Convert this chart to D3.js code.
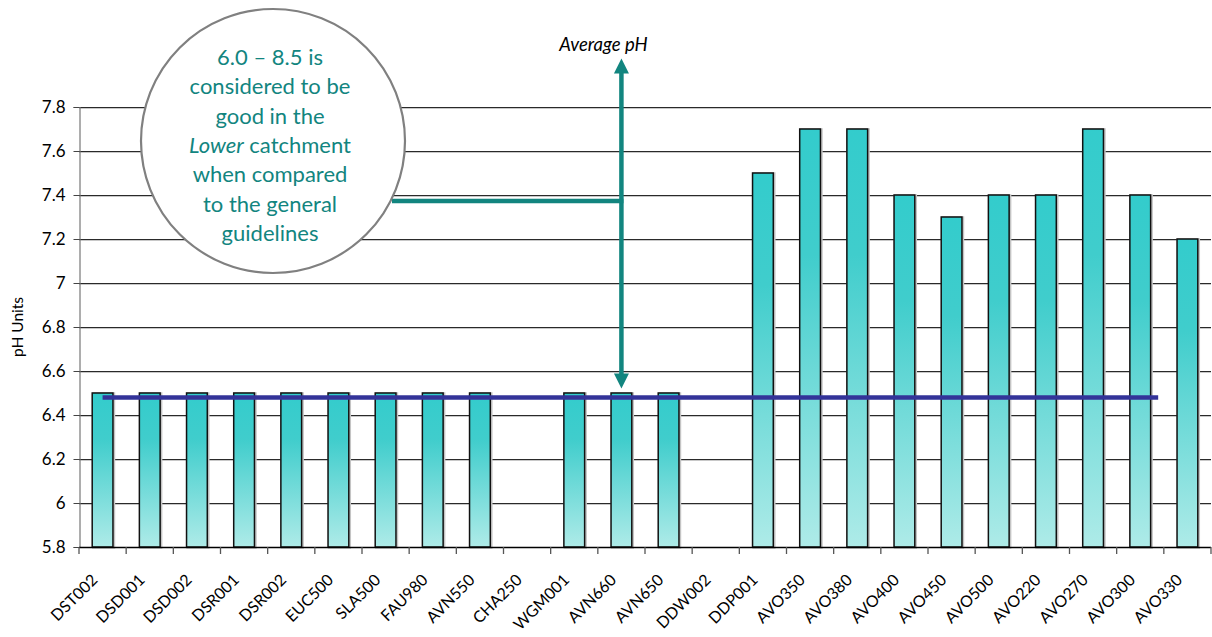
<!DOCTYPE html>
<html><head><meta charset="utf-8">
<script src="https://cdn.jsdelivr.net/npm/d3@7"></script>
<style>body{margin:0;background:#fff}svg{display:block}text{font-family:Lato,"Open Sans",sans-serif}</style>
</head><body>
<svg id="c" width="1212" height="637"></svg>
<script>
// ---- data ----
const categories = ["DST002","DSD001","DSD002","DSR001","DSR002","EUC500","SLA500","FAU980","AVN550","CHA250","WGM001","AVN660","AVN650","DDW002","DDP001","AVO350","AVO380","AVO400","AVO450","AVO500","AVO220","AVO270","AVO300","AVO330"];
const phValues = [6.5,6.5,6.5,6.5,6.5,6.5,6.5,6.5,6.5,null,6.5,6.5,6.5,null,7.5,7.7,7.7,7.4,7.3,7.4,7.4,7.7,7.4,7.2];
const yTicks = [5.8,6,6.2,6.4,6.6,6.8,7,7.2,7.4,7.6,7.8];
const yTickLabels = ["5.8","6","6.2","6.4","6.6","6.8","7","7.2","7.4","7.6","7.8"];
const averagePH = 6.48;
const averageSpan = [0, 22.38];           // category-index extent of the average line
const arrowCategory = "AVN660";
const arrowRange = [6.52, 8.02];          // pH range of the double-headed arrow
const connectorPH = 7.373;
const calloutLines = [["6.0 – 8.5 is"],["considered to be"],["good in the"],["Lower","italic"," catchment"],["when compared"],["to the general"],["guidelines"]];
const yTitle = "pH Units";
const arrowLabel = "Average pH";

// ---- layout ----
const m = {l:79, r:1211, t:107, b:547};
const svg = d3.select("#c");
const teal = "#12857f";

const x = d3.scaleBand().domain(categories).range([m.l, m.r]).paddingInner(0.56).paddingOuter(0.28);
const y = d3.scaleLinear().domain([5.8, 7.8]).range([m.b, m.t]);
const step = x.step();
const cx = c => x(c) + x.bandwidth()/2;
const xi = d3.scaleLinear().domain([0, 1]).range([cx(categories[0]), cx(categories[0]) + step]);

const defs = svg.append("defs");
const g = defs.append("linearGradient").attr("id","barGrad").attr("x1",0).attr("y1",0).attr("x2",0).attr("y2",1);
g.append("stop").attr("offset",0).attr("stop-color","#33cccc");
g.append("stop").attr("offset",0.3).attr("stop-color","#40cdcc");
g.append("stop").attr("offset",1).attr("stop-color","#aeebe8");

// gridlines
const grid = svg.append("g");
yTicks.slice(1).forEach(t => {
  grid.append("line").attr("x1", m.l).attr("x2", m.r).attr("y1", y(t)+1.5).attr("y2", y(t)+1.5).attr("stroke","#c8c8c8").attr("stroke-width",1);
  grid.append("line").attr("x1", m.l).attr("x2", m.r).attr("y1", y(t)+0.5).attr("y2", y(t)+0.5).attr("stroke","#2a2a2a").attr("stroke-width",1);
});

// y axis
const yAxis = d3.axisLeft(y).tickValues(yTicks).tickSize(6).tickPadding(8).tickFormat((d,i)=>yTickLabels[i]);
const ya = svg.append("g").attr("transform",`translate(${m.l+0.5},0)`).call(yAxis);
ya.select(".domain").attr("stroke","#777").attr("stroke-width",1.2);
ya.selectAll(".tick line").attr("stroke","#444");
ya.selectAll(".tick text").attr("font-size",17).attr("fill","#000").attr("font-family","Lato,sans-serif");

svg.append("text").attr("transform",`translate(23,${(m.t+m.b)/2}) rotate(-90)`).attr("text-anchor","middle")
  .attr("font-size",15.5).attr("fill","#000").text(yTitle);

// bars
const data = categories.map((c,i)=>({c, v: phValues[i]})).filter(d => d.v != null);
svg.append("g").selectAll("rect").data(data).join("rect")
  .attr("x", d => x(d.c)+1).attr("y", d => y(d.v)+0.5).attr("width", x.bandwidth()).attr("height", d => y(5.8)-y(d.v))
  .attr("fill","none").attr("stroke","#c4c4c4").attr("stroke-width",2.5);
svg.append("g").selectAll("rect").data(data).join("rect")
  .attr("x", d => x(d.c)).attr("y", d => y(d.v)).attr("width", x.bandwidth()).attr("height", d => y(5.8)-y(d.v))
  .attr("fill","url(#barGrad)").attr("stroke","#111").attr("stroke-width",1.5);

// x axis
svg.append("line").attr("x1", m.l).attr("x2", m.r).attr("y1", m.b+0.5).attr("y2", m.b+0.5).attr("stroke","#000").attr("stroke-width",1.3);
const tickG = svg.append("g");
d3.range(categories.length+1).forEach(i => {
  const tx = m.l + i*step;
  tickG.append("line").attr("x1",tx).attr("x2",tx).attr("y1",m.b).attr("y2",m.b+7).attr("stroke","#555").attr("stroke-width",1.3);
});
svg.append("g").selectAll("text").data(categories).join("text")
  .attr("transform", c => `translate(${cx(c)-4},${m.b+34}) rotate(-45)`)
  .attr("text-anchor","end").attr("font-size",16).attr("fill","#000").text(c => c);

// average line
svg.append("line").attr("x1", xi(averageSpan[0])).attr("x2", xi(averageSpan[1]))
  .attr("y1", y(averagePH)).attr("y2", y(averagePH)).attr("stroke","#333399").attr("stroke-width",4.5);

// annotation arrow
const ax = cx(arrowCategory);
const yTop = y(arrowRange[1]), yBot = y(arrowRange[0]);
svg.append("line").attr("x1",ax).attr("x2",ax).attr("y1",yTop+14).attr("y2",yBot-14).attr("stroke",teal).attr("stroke-width",4.5);
svg.append("path").attr("d",`M${ax},${yTop} L${ax-7.5},${yTop+15} L${ax+7.5},${yTop+15} Z`).attr("fill",teal);
svg.append("path").attr("d",`M${ax},${yBot} L${ax-7.5},${yBot-15} L${ax+7.5},${yBot-15} Z`).attr("fill",teal);
svg.append("text").attr("x", ax-18).attr("y", yTop-8).attr("text-anchor","middle").attr("font-size",18.5)
  .attr("font-style","italic").attr("fill","#000").text(arrowLabel);

// connector
svg.append("line").attr("x1", 392).attr("x2", ax+2).attr("y1", y(connectorPH)).attr("y2", y(connectorPH)).attr("stroke",teal).attr("stroke-width",4.5);

// callout circle
const cc = {x:273, y:141, r:132};
svg.append("circle").attr("cx",cc.x).attr("cy",cc.y).attr("r",cc.r).attr("fill","#fff").attr("stroke","#808080").attr("stroke-width",2.2);
const ct = svg.append("text").attr("text-anchor","middle").attr("font-size",22).attr("fill",teal);
calloutLines.forEach((ln,i) => {
  const yy = 65 + i*29.3;
  if (ln.length === 3) {
    ct.append("tspan").attr("x",270).attr("y",yy).attr("font-style","italic").text(ln[0]);
    ct.append("tspan").text(ln[2]);
  } else ct.append("tspan").attr("x",270).attr("y",yy).text(ln[0]);
});
</script>
</body></html>
